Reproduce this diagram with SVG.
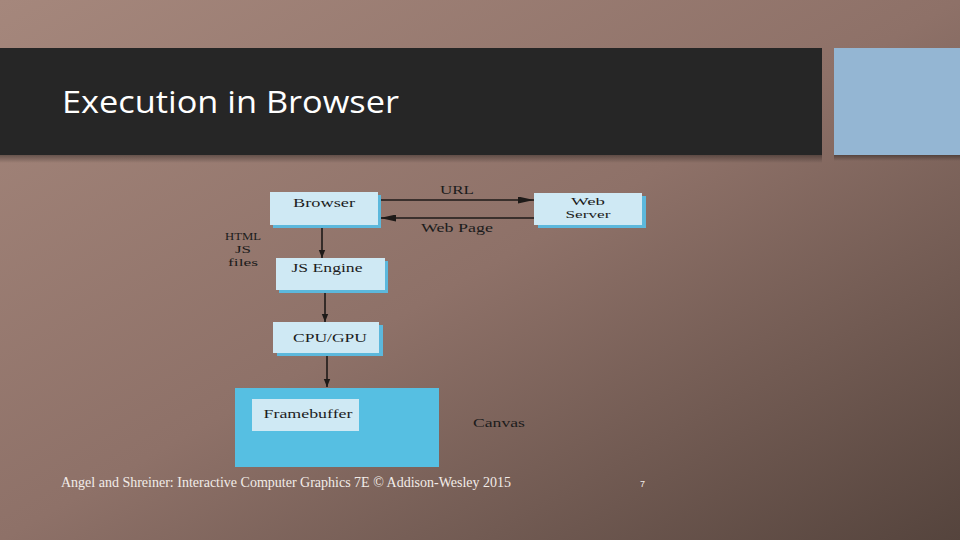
<svg xmlns="http://www.w3.org/2000/svg" width="960" height="540" viewBox="0 0 960 540">
<defs>
<linearGradient id="bg" x1="0" y1="0" x2="1" y2="1">
<stop offset="0" stop-color="#a5877c"/>
<stop offset="0.5" stop-color="#8e7168"/>
<stop offset="1" stop-color="#55443d"/>
</linearGradient>
<linearGradient id="shade" x1="0" y1="0" x2="0" y2="1">
<stop offset="0" stop-color="#000" stop-opacity="0.35"/>
<stop offset="1" stop-color="#000" stop-opacity="0"/>
</linearGradient>
<marker id="ahb" viewBox="0 0 10 10" refX="10" refY="5" markerWidth="8" markerHeight="8" markerUnits="userSpaceOnUse" orient="auto">
<path d="M0,1 L10,5 L0,9 Z" fill="#1e1a18"/>
</marker>
<marker id="ahw" viewBox="0 0 10 10" refX="10" refY="5" markerWidth="16" markerHeight="7" markerUnits="userSpaceOnUse" orient="auto" preserveAspectRatio="none">
<path d="M0,0 L10,5 L0,10 Z" fill="#1e1a18"/>
</marker>
</defs>
<style>
.box{fill:#cfe9f4;}
.sh{fill:#5cb8dc;}
.lbl{font-family:"Liberation Serif","DejaVu Serif",serif;font-size:13px;fill:#1c1c1c;text-anchor:middle;}
.sm{font-size:11px;}
.ln{stroke:#1e1a18;stroke-width:1.6;fill:none;}
</style>
<rect width="960" height="540" fill="url(#bg)"/>
<rect x="0" y="155" width="822" height="8" fill="url(#shade)"/>
<rect x="834" y="155" width="126" height="6" fill="url(#shade)"/>
<rect x="0" y="48" width="822" height="107" fill="#262626"/>
<rect x="834" y="48" width="126" height="107" fill="#94b6d3"/>
<text x="62" y="113" font-family="Open Sans, Liberation Sans, sans-serif" font-size="31" fill="#ffffff" textLength="337" lengthAdjust="spacingAndGlyphs">Execution in Browser</text>

<g id="connectors">
<line class="ln" x1="378" y1="200" x2="534" y2="200" marker-end="url(#ahw)"/>
<line class="ln" x1="534" y1="218" x2="380" y2="218" marker-end="url(#ahw)"/>
<line class="ln" x1="322" y1="226" x2="322" y2="258" marker-end="url(#ahb)"/>
<line class="ln" x1="325" y1="290" x2="325" y2="322" marker-end="url(#ahb)"/>
<line class="ln" x1="327" y1="354" x2="327" y2="387" marker-end="url(#ahb)"/>
<text class="lbl" x="457" y="194" textLength="34" lengthAdjust="spacingAndGlyphs">URL</text>
<text class="lbl" x="457" y="232" textLength="72" lengthAdjust="spacingAndGlyphs">Web Page</text>
<text class="lbl sm" x="243" y="240" textLength="36" lengthAdjust="spacingAndGlyphs">HTML</text>
<text class="lbl sm" x="243" y="253" textLength="16" lengthAdjust="spacingAndGlyphs">JS</text>
<text class="lbl sm" x="243" y="266" textLength="30" lengthAdjust="spacingAndGlyphs">files</text>
</g>

<g id="browser">
<rect class="sh" x="273" y="195" width="108" height="33"/>
<rect class="box" x="270" y="192" width="108" height="33"/>
<text class="lbl" x="324" y="207" textLength="62" lengthAdjust="spacingAndGlyphs">Browser</text>
</g>
<g id="webserver">
<rect class="sh" x="538" y="196" width="108" height="32"/>
<rect class="box" x="534" y="193" width="108" height="32"/>
<text class="lbl sm" x="588" y="205" textLength="34" lengthAdjust="spacingAndGlyphs">Web</text>
<text class="lbl sm" x="588" y="218" textLength="45" lengthAdjust="spacingAndGlyphs">Server</text>
</g>
<g id="jsengine">
<rect class="sh" x="279" y="261" width="109" height="32"/>
<rect class="box" x="276" y="258" width="109" height="32"/>
<text class="lbl" x="327" y="272" textLength="71" lengthAdjust="spacingAndGlyphs">JS Engine</text>
</g>
<g id="cpugpu">
<rect class="sh" x="277" y="325" width="106" height="31"/>
<rect class="box" x="273" y="322" width="106" height="31"/>
<text class="lbl" x="330" y="342" textLength="74" lengthAdjust="spacingAndGlyphs">CPU/GPU</text>
</g>
<g id="canvas">
<rect x="235" y="388" width="204" height="79" fill="#56bfe2"/>
<text class="lbl" x="499" y="427" textLength="52" lengthAdjust="spacingAndGlyphs">Canvas</text>
</g>
<g id="framebuffer">
<rect class="box" x="252" y="399" width="107" height="32"/>
<text class="lbl" x="308" y="418" textLength="89" lengthAdjust="spacingAndGlyphs">Framebuffer</text>
</g>

<text x="61" y="487" font-family="Liberation Serif, serif" font-size="14" fill="#f2ece8" textLength="450" lengthAdjust="spacingAndGlyphs">Angel and Shreiner: Interactive Computer Graphics 7E © Addison-Wesley 2015</text>
<text x="640" y="487" font-family="Liberation Sans, sans-serif" font-size="9" fill="#f2ece8">7</text>
</svg>
